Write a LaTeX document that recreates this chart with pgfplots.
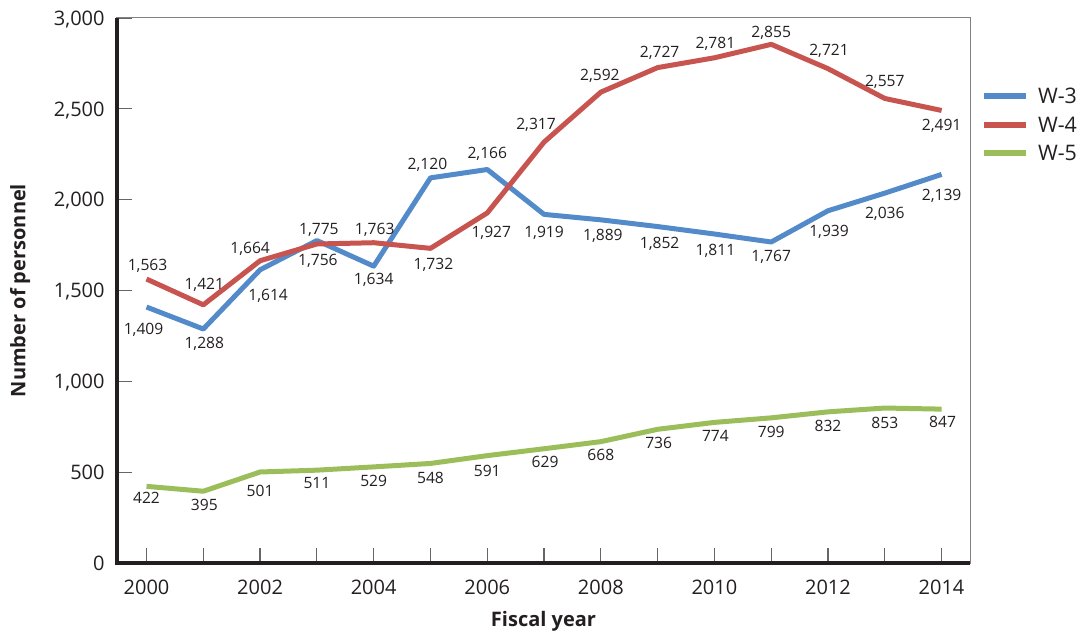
\documentclass[border=0pt]{standalone}
\usepackage{fontspec}
\setmainfont{Open Sans}
\usepackage{pgfplots}
\pgfplotsset{compat=1.18}
\usepackage{pgfplotstable}
\definecolor{cw3}{RGB}{83,139,202}
\definecolor{cw4}{RGB}{200,84,79}
\definecolor{cw5}{RGB}{155,190,90}
\definecolor{ink}{RGB}{35,31,32}

\pgfplotstableread{
x y dx dy
2000 1409 -3 -22
2001 1288 1 -14
2002 1614 8 -25
2003 1775 2 12
2004 1634 0 -13
2005 2120 -3 14
2006 2166 0 17
2007 1919 0 -17
2008 1889 2 -15
2009 1852 2 -16
2010 1811 1 -16
2011 1767 0 -14
2012 1939 1 -20
2013 2036 0 -20
2014 2139 0 -20
}\wthree

\pgfplotstableread{
x y dx dy
2000 1563 1 14
2001 1421 1 21
2002 1664 -10 13
2003 1756 1 -16
2004 1763 1 14
2005 1732 3 -15
2006 1927 4 -19
2007 2317 -8 18
2008 2592 -1 17
2009 2727 2 16
2010 2781 1 15
2011 2855 0 12
2012 2721 1 19
2013 2557 0 18
2014 2491 0 -14
}\wfour

\pgfplotstableread{
x y dx dy
2000 422 0 -12
2001 395 1 -14
2002 501 0 -19
2003 511 0 -13
2004 529 0 -14
2005 548 0 -14
2006 591 0 -15
2007 629 1 -13
2008 668 0 -13
2009 736 1 -14
2010 774 1 -14
2011 799 0 -14
2012 832 0 -14
2013 853 0 -15
2014 847 1 -13
}\wfive

\pgfplotsset{
  lbl/.style={
    nodes near coords,
    visualization depends on={\thisrow{dx}\as\dx},
    visualization depends on={\thisrow{dy}\as\dy},
    every node near coord/.append style={anchor=center, xshift=\dx*0.5pt, yshift=\dy*0.5pt,
      inner sep=0pt, text depth=0pt, font=\fontsize{7.8}{9}\selectfont, color=ink},
  },
}

\begin{document}
\begin{tikzpicture}
\useasboundingbox (-58.5pt,-37pt) rectangle (482pt,281.5pt);
\begin{axis}[
  scale only axis, width=426.5pt, height=272.5pt,
  xmin=1999.48, xmax=2014.5, ymin=0, ymax=3000,
  xtick={2000,...,2014},
  xticklabels={2000,,2002,,2004,,2006,,2008,,2010,,2012,,2014},
  ytick={0,500,...,3000},
  xtick pos=bottom, ytick pos=left,
  /pgf/number format/1000 sep={,},
  /pgf/number format/assume math mode=true,
  tick align=inside, major tick length=7.5pt,
  tick style={draw=black!60, line width=0.6pt},
  axis line style={draw=black!50, line width=0.5pt},
  yticklabel style={inner sep=0pt, xshift=-6pt, text depth=0pt, font=\fontsize{10}{12}\selectfont, color=ink},
  xticklabel style={inner sep=0pt, anchor=north, yshift=-8.35pt, text depth=0pt, font=\fontsize{10}{12}\selectfont, color=ink},
  xlabel={Fiscal year}, ylabel={Number of personnel},
  xlabel style={at={(axis description cs:0.5,-0.1064)}, anchor=center, font=\bfseries\fontsize{10}{12}\selectfont, color=ink},
  ylabel style={at={(axis description cs:-0.1135,0.5)}, anchor=center, font=\bfseries\fontsize{10}{12}\selectfont, color=ink},
  legend style={at={(1,1)}, anchor=north west, xshift=5.5pt, yshift=-35pt, draw=none, fill=none,
    inner sep=0pt, column sep=4.5pt, row sep=6.6pt,
    nodes={inner sep=0pt, text depth=0pt, font=\fontsize{10.7}{12}\selectfont, color=ink}},
  legend image code/.code={\draw[#1, line width=2.8pt] (0pt,0pt) -- (21pt,0pt);},
  legend cell align=left,
  clip=false,
]
\addplot[cw3, line width=2.5pt, line join=round, lbl] table[x=x,y=y]{\wthree};
\addlegendentry{W-3}
\addplot[cw4, line width=2.5pt, line join=round, lbl] table[x=x,y=y]{\wfour};
\addlegendentry{W-4}
\addplot[cw5, line width=2.5pt, line join=round, lbl] table[x=x,y=y]{\wfive};
\addlegendentry{W-5}
\draw[ink, line width=1.7pt] (rel axis cs:0,1) -- (rel axis cs:0,0) -- (rel axis cs:1,0);
\end{axis}
\end{tikzpicture}
\end{document}
